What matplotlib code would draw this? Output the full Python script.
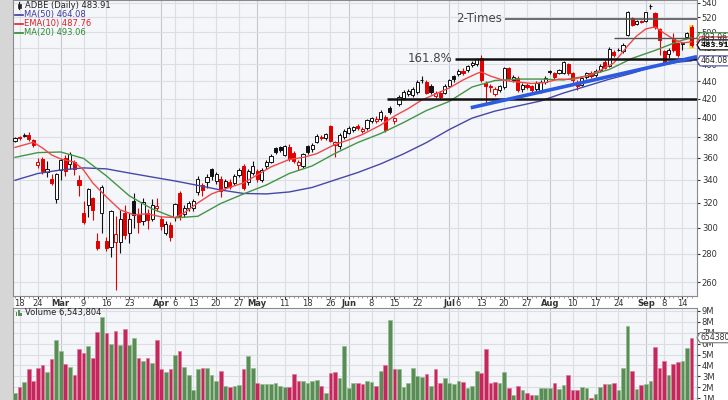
import numpy as np
import pandas as pd
import matplotlib
matplotlib.use('Agg')
import matplotlib.pyplot as plt
from matplotlib.transforms import IdentityTransform

# ---- data --------------------------------------------------------------
holidays = ['2020-02-17', '2020-04-10', '2020-05-25', '2020-07-03', '2020-09-07']
dates = pd.bdate_range('2020-02-14', '2020-09-16')
dates = dates[~dates.isin(pd.to_datetime(holidays))]

ohlc = [
    (376, 380, 375, 379.5), (380, 381, 377, 379), (381.5, 384, 380, 382), (382.5, 385, 376, 378),
    (377, 378, 370, 372), (353, 360, 351, 356), (359, 361, 345, 348), (347, 357, 342, 350),
    (341, 345, 335, 337), (323, 346, 320, 345), (349, 360, 340, 358), (360, 363, 343, 348),
    (354, 366, 350, 364), (356, 358, 344, 350), (340, 344, 326, 335), (312, 322, 303, 304),
    (318, 333, 308, 332), (324, 325, 306, 314), (290, 296, 283, 284), (312, 335, 296, 334),
    (290, 293, 282, 284), (285, 314, 278, 313), (289, 309, 255, 295), (289, 314, 281, 307),
    (312, 318, 291, 294), (296, 312, 288, 307), (322, 328, 300, 310), (310, 316, 296, 304),
    (305, 324, 302, 321), (312, 315, 299, 306), (307, 323, 305, 318), (315.5, 324, 313, 317),
    (307, 309, 298, 301), (296, 305, 294, 303), (302, 304, 290, 293), (308, 320, 305, 319),
    (328, 330, 306, 309), (311, 318, 308, 316), (316, 322, 313, 320), (316, 323, 313, 322),
    (329, 343, 327, 341), (335, 337, 326, 331), (338, 345, 333, 342), (350, 351, 340, 343),
    (339, 347, 336, 345), (341, 343, 325, 330), (334, 341, 332, 339), (338, 341, 332, 334),
    (337, 345, 335, 343), (344, 351, 342, 349), (352, 354, 331, 333), (338, 350, 335, 348),
    (346, 357, 344, 352), (348, 350, 338, 341), (340, 351, 338, 349), (352, 358, 350, 356),
    (356, 364, 355, 362), (369, 370, 364, 366), (370, 371, 366, 367.5), (363, 372, 362, 371),
    (370, 373, 357, 359), (365, 367, 355, 357), (353, 358, 349, 356), (352, 365, 351, 364),
    (371, 372, 364, 366), (368, 374, 366, 372), (375, 383, 374, 381), (380.5, 382, 377, 379),
    (379, 384, 377, 383), (391, 392, 375, 376), (372, 376, 361, 375), (371, 384, 368, 382),
    (380, 388, 378, 386), (384, 391, 383, 389), (387, 391, 385, 390), (391, 393, 387, 389),
    (386, 390, 384, 388.5), (389, 399, 387, 398), (396, 401, 394, 400), (396, 402, 394, 399),
    (399, 408, 397, 406), (401, 403, 385, 387), (410, 412, 404, 406), (397, 401, 393, 400),
    (415, 424, 412, 422), (421, 430, 419, 428), (426, 431, 423, 429), (424, 433, 422, 431),
    (428, 441, 426, 439), (441, 446, 438, 441.5), (439, 441, 425, 427), (435, 437, 426, 428),
    (423, 429, 421, 427), (427, 429, 420, 422), (427, 437, 425, 435), (435, 443, 433, 441),
    (446, 447, 439, 442), (448, 454, 446, 452), (452, 455, 447, 449), (453, 459, 451, 458),
    (459, 464, 457, 462), (460, 467, 458, 466), (468, 471, 439, 441), (438, 440, 416, 434),
    (435, 437, 428, 433), (426, 433, 423, 431), (430, 436, 428, 434), (433, 457, 431, 455),
    (455, 457, 441, 443), (441, 447, 439, 445), (444, 446, 428, 430), (431, 438, 428, 436),
    (436, 438, 431, 433), (434, 436, 427, 430), (431, 440, 429, 438), (429, 441, 427, 439.5),
    (439, 446, 437, 444), (451.5, 453, 448, 450.5), (449, 451, 443, 445), (450, 454, 448, 453),
    (450, 464, 448, 463), (460, 462, 447, 450), (449, 451, 438, 441), (438, 441, 430, 434),
    (436, 445, 434, 444), (445, 451, 443, 449), (450, 452, 444, 446), (447, 454, 445, 452),
    (453, 460, 451, 458), (463, 466, 454, 456), (458, 481, 457, 479), (475, 478, 469, 471),
    (478, 480, 476, 477.5), (476, 486, 474, 484), (497, 529, 495, 527), (519, 521, 508, 510),
    (511, 516, 510, 515), (514.5, 516, 512, 513.5), (515, 528, 514, 527), (536, 538.5, 531, 535.5),
    (526, 528, 504, 507), (504, 506, 471, 490), (476, 478, 460, 463), (472, 480, 468, 478),
    (491, 499, 475, 477), (486, 488, 469, 471), (485, 487, 477, 486.5), (494, 501, 493, 499),
    (507, 510, 481, 483.91),
]
prev_close = 376.0

volume_m = [
    1.5, 2.0, 2.5, 3.7, 2.6, 3.8, 4.0, 3.4, 4.6, 6.3, 5.3, 4.1, 3.9, 3.1, 5.5, 5.1, 5.8, 4.7, 7.1, 8.4,
    7.0, 6.0, 7.2, 5.9, 7.3, 5.9, 6.5, 4.7, 4.4, 4.7, 4.2, 6.3, 3.7, 3.4, 3.7, 5.0, 5.3, 3.9, 3.1, 1.7,
    3.7, 3.8, 3.8, 3.1, 2.6, 3.5, 2.1, 2.0, 2.1, 2.2, 3.7, 4.9, 3.8, 2.4, 2.3, 2.3, 2.3, 2.4, 2.1, 2.0,
    2.0, 3.2, 2.6, 2.6, 2.4, 2.6, 2.7, 2.1, 1.5, 3.3, 3.4, 2.8, 5.8, 1.9, 2.4, 2.4, 2.3, 2.6, 2.5, 2.1,
    3.5, 4.0, 8.2, 3.7, 3.7, 2.0, 2.4, 3.8, 3.0, 2.9, 3.2, 2.1, 3.7, 2.4, 2.8, 2.4, 2.3, 2.6, 2.5, 1.9,
    2.1, 3.5, 3.3, 5.5, 2.4, 2.5, 2.4, 3.4, 1.9, 1.3, 2.1, 1.7, 1.5, 1.3, 1.3, 1.9, 1.9, 1.9, 2.4, 1.8,
    2.2, 3.1, 1.7, 1.7, 2.0, 1.9, 1.0, 1.4, 2.0, 2.3, 2.3, 2.4, 1.7, 3.8, 7.6, 3.5, 1.8, 2.2, 2.3, 2.6,
    5.7, 3.8, 4.4, 3.1, 4.1, 4.3, 4.4, 5.6, 6.543804,
]

# moving averages, read at sample bars
ma50_idx = list(range(0, 146, 5)) + [148]
ma50_val = [339.5, 345.6, 348.8, 350.7, 349.8, 346.0, 342.4, 338.9, 335.0, 331.0, 328.0, 327.6,
            329.3, 333.2, 339.8, 346.5, 354.4, 363.8, 374.7, 387.7, 399.5, 406.9, 412.4, 417.8,
            426.6, 434.3, 442.3, 449.3, 457.6, 462.5, 464.08]
ma20_idx = ma50_idx
ma20_val = [360.5, 365.0, 365.6, 359.5, 343.4, 326.0, 315.0, 307.7, 309.0, 319.5, 327.6, 335.4,
            345.6, 352.5, 364.2, 374.8, 383.7, 394.9, 407.5, 417.3, 433.4, 440.8, 442.5, 442.5,
            441.4, 446.0, 453.7, 467.1, 476.9, 488.1, 493.06]
ema10_idx = [0, 4, 6, 8, 10, 13, 15, 17, 20, 23, 26, 29, 32, 35, 37, 40, 43, 46, 50, 53, 56, 60,
             63, 66, 70, 73, 76, 80, 83, 86, 89, 92, 95, 98, 101, 102, 104, 107, 110, 113, 116,
             119, 122, 125, 128, 131, 134, 136, 138, 140, 142, 144, 146, 148]
ema10_val = [370, 375, 369.5, 362.8, 359, 356, 348.8, 337.2, 325, 314.2, 310.2, 311, 308.5, 308,
             311.8, 320, 327.6, 332, 337.2, 344.3, 351.6, 358.5, 360.4, 364, 372.9, 377.3, 382.7,
             392.3, 401.6, 409.5, 418.9, 425.5, 432.3, 441.4, 448.9, 450.8, 446, 440.8, 439.1,
             437.4, 438.5, 442.5, 442, 446, 452.5, 461.5, 482.4, 495.3, 504.5, 507.2, 499, 491.4,
             486.4, 487.76]

tick_dates = ['2020-02-18', '2020-02-24', '2020-03-02', '2020-03-09', '2020-03-16', '2020-03-23',
              '2020-04-01', '2020-04-06', '2020-04-13', '2020-04-20', '2020-04-27', '2020-05-01',
              '2020-05-11', '2020-05-18', '2020-05-26', '2020-06-01', '2020-06-08', '2020-06-15',
              '2020-06-22', '2020-07-01', '2020-07-06', '2020-07-13', '2020-07-20', '2020-07-27',
              '2020-08-03', '2020-08-10', '2020-08-17', '2020-08-24', '2020-09-01', '2020-09-08',
              '2020-09-14']
tick_labels = ['18', '24', 'Mar', '9', '16', '23', 'Apr', '6', '13', '20', '27', 'May', '11', '18',
               '26', 'Jun', '8', '15', '22', 'Jul', '6', '13', '20', '27', 'Aug', '10', '17', '24',
               'Sep', '8', '14']

# drawn levels: (price, first bar)
level_lines = [(518.0, 107.2, '#555555', 1.2), (492.7, 131.1, '#555555', 1.0),
               (466.4, 96.3, '#111111', 1.8), (420.0, 81.4, '#111111', 1.8)]
trend_idx = [99.7, 149.2]
trend_val = [410.5, 469.2]

# ---- figure ---------------------------------------------------------------
opens, highs, lows, closes = [np.array(v, float) for v in zip(*ohlc)]
x = np.arange(len(dates))
prev = np.r_[prev_close, closes[:-1]]
up = closes >= prev
tick_pos = [dates.get_loc(pd.Timestamp(d)) for d in tick_dates]

plt.rcParams['font.family'] = ['DejaVu Sans']
W, H = 728, 400
fig = plt.figure(figsize=(W / 100, H / 100), dpi=100)
fig.patch.set_facecolor('white')
fig.add_artist(plt.Rectangle((0, 0), 13 / W, 1, transform=fig.transFigure, color='#d6d6d6', zorder=0))

def rect(l, t, r, b):
    return [l / W, 1 - b / H, (r - l) / W, (b - t) / H]

ax = fig.add_axes(rect(13, 0, 697, 296))
axv = fig.add_axes(rect(13, 308, 697, 409))
bg = '#f5f6fa'
for a in (ax, axv):
    a.set_facecolor(bg)
    for s in a.spines.values():
        s.set_color('#8a8a8a')
        s.set_linewidth(0.8)
    a.set_xlim(-0.44, 149.2)
    for p, lab in zip(tick_pos, tick_labels):
        month = not lab.isdigit()
        a.axvline(p, color='#c4c7cf' if month else '#dcdee5', lw=0.8, zorder=0)

ax.set_yscale('log')
ax.set_ylim(250.8, 544.2)
price_ticks = np.arange(260, 541, 20)
for p in price_ticks:
    ax.axhline(p, color='#dcdee5', lw=0.8, zorder=0)
ax.yaxis.tick_right()
ax.set_yticks(price_ticks)
ax.set_yticklabels([str(p) for p in price_ticks])
ax.yaxis.set_minor_locator(matplotlib.ticker.NullLocator())
ax.tick_params(axis='y', labelsize=6, colors='#333333', length=2, pad=1.5)

ax.set_xticks(tick_pos)
ax.set_xticklabels(tick_labels)
for t, lab in zip(ax.get_xticklabels(), tick_labels):
    if not lab.isdigit():
        t.set_fontweight('bold')
ax.set_xticks(x, minor=True)
ax.tick_params(axis='x', which='major', labelsize=6, colors='#333333', length=2, pad=0.5)
ax.tick_params(axis='x', which='minor', length=1.5, color='#888888')

# highlight last candle
ax.bar(x[-1], 31, bottom=479, width=1.3, color='#f3dc4e', zorder=2)

# candles
col = np.where(up, '#111111', '#e00000')
ax.vlines(x, lows, highs, colors=col, lw=0.8, zorder=3)
body_lo = np.minimum(opens, closes)
body_hi = np.maximum(opens, closes)
face = np.where(closes < opens, col, 'white')
ax.bar(x, np.maximum(body_hi - body_lo, 0.4), bottom=body_lo, width=0.68,
       color=face, edgecolor=col, linewidth=0.7, zorder=4)

# moving averages
ax.plot(ma50_idx, ma50_val, color='#4747a8', lw=1.0, zorder=5)
ax.plot(ma20_idx, ma20_val, color='#459445', lw=1.0, zorder=5)
ax.plot(ema10_idx, ema10_val, color='#f04848', lw=1.0, zorder=5)

# drawn lines
for lvl, start, c, lw in level_lines:
    ax.hlines(lvl, start, 149.2, color=c, lw=lw, zorder=6)
ax.plot(trend_idx, trend_val, color='#2b5be0', lw=2.6, zorder=6, solid_capstyle='butt')
ax.text(96.5, 518.0, '2-Times', fontsize=8.5, color='#444444', va='center', ha='left', zorder=7)
ax.text(86.0, 466.4, '161.8%', fontsize=8.5, color='#444444', va='center', ha='left', zorder=7)

# volume
vcol = np.where(up, '#5b8c57', '#c3285c')
vedge = np.where(up, '#93bf8e', '#e27a9c')
axv.bar(x, volume_m, width=0.8, color=vcol, edgecolor=vedge, linewidth=0.5, zorder=3)
axv.set_ylim(0, 9.27)
vt = np.arange(1, 10)
for v in vt:
    axv.axhline(v, color='#dcdee5', lw=0.8, zorder=0)
axv.yaxis.tick_right()
axv.set_yticks(vt)
axv.set_yticklabels(['%dM' % v for v in vt])
axv.set_xticks([])
axv.tick_params(axis='y', labelsize=6, colors='#333333', length=2, pad=1.5)

# value tags on the right edge (pixel shapes placed at the data value)
def tag(a, val, txt, ec, tc='#111111', bold=False, size=5.6):
    yd = a.transData.transform((0, val))[1]
    xd = a.transData.transform((149.2, val))[0]
    pts = [(xd, yd), (xd + 3, yd + 5), (xd + 40, yd + 5), (xd + 40, yd - 5), (xd + 3, yd - 5)]
    fig.add_artist(plt.Polygon(pts, closed=True, fc='white', ec=ec, lw=0.9,
                               transform=IdentityTransform(), zorder=20))
    fig.text(xd + 3.2, yd, txt, transform=IdentityTransform(), fontsize=size, va='center',
             ha='left', color=tc, fontweight='bold' if bold else 'normal', zorder=21)

tag(ax, ma20_val[-1], '%.2f' % ma20_val[-1], '#459445', '#333333')
tag(ax, ema10_val[-1], '%.2f' % ema10_val[-1], '#f04848', '#333333')
tag(ax, ma50_val[-1], '%.2f' % ma50_val[-1], '#5a5ab0', '#222222')
tag(ax, closes[-1], '%.2f' % closes[-1], '#111111', '#111111', bold=True, size=5.3)
tag(axv, volume_m[-1], '%d' % round(volume_m[-1] * 1e6), '#888888', '#333333')

# legends
def ftxt(xp, yp, s, c, **kw):
    fig.text(xp / W, 1 - yp / H, s, color=c, fontsize=6, va='center', ha='left', **kw)

ftxt(25, 5.5, 'ADBE (Daily) %.2f' % closes[-1], '#222222')
fig.add_artist(plt.Line2D([19 / W, 19 / W], [1 - 2 / H, 1 - 9 / H], color='#222222', lw=0.8))
fig.add_artist(plt.Rectangle((17.5 / W, 1 - 8 / H), 3 / W, 4 / H, fc='#222222', ec='#222222', lw=0.5))
legend_rows = [('MA(50) %.2f' % ma50_val[-1], '#3a3aa0', 14.5),
               ('EMA(10) %.2f' % ema10_val[-1], '#e02020', 23.5),
               ('MA(20) %.2f' % ma20_val[-1], '#2e8b2e', 32.5)]
for s, c, yp in legend_rows:
    fig.add_artist(plt.Line2D([15 / W, 23 / W], [1 - yp / H] * 2, color=c, lw=1.2))
    ftxt(24, yp, s, c)

ftxt(25, 313, 'Volume {:,}'.format(round(volume_m[-1] * 1e6)), '#222222')
for k, hgt in enumerate([4, 6, 3]):
    fig.add_artist(plt.Rectangle(((15.5 + 2.2 * k) / W, 1 - 316 / H), 1.8 / W, hgt / H,
                                 fc='#5b8c57', ec='none'))

fig.savefig('out.png', dpi=100)
